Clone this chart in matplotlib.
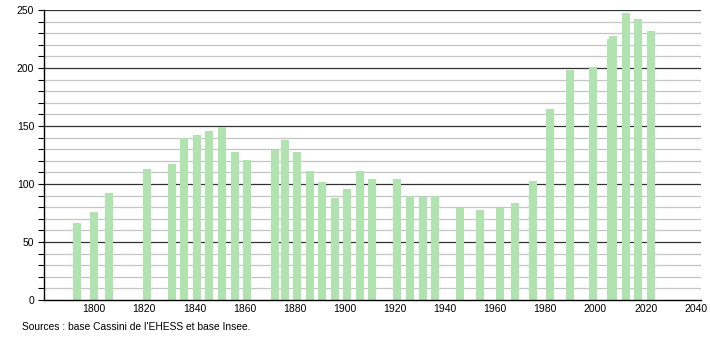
import matplotlib
matplotlib.use('Agg')
import matplotlib.pyplot as plt
from matplotlib.ticker import MultipleLocator

# - Data -
years = [1793, 1800, 1806, 1821, 1831, 1836, 1841, 1846, 1851, 1856, 1861,
         1872, 1876, 1881, 1886, 1891, 1896, 1901, 1906, 1911,
         1921, 1926, 1931, 1936, 1946, 1954, 1962, 1968, 1975, 1982,
         1990, 1999, 2006, 2007, 2012, 2017, 2022]
population = [66, 76, 92, 113, 117, 140, 142, 146, 149, 128, 121,
              129, 138, 128, 111, 102, 88, 96, 111, 104,
              104, 90, 89, 90, 79, 78, 79, 84, 103, 165,
              198, 201, 225, 228, 247, 242, 232]
x_ticks = list(range(1800, 2041, 20))
y_ticks = [0, 50, 100, 150, 200, 250]
source = "Sources : base Cassini de l'EHESS et base Insee."

plt.rcParams['font.family'] = ['Liberation Sans', 'DejaVu Sans']

fig = plt.figure(figsize=(7.1, 3.4), dpi=100)
ax = fig.add_axes([0.062, 0.1176, 0.925, 0.853])

# - Grid lines -
for v in range(10, 251, 10):
    if v % 50 == 0:
        ax.axhline(v, color='#333333', lw=0.9, zorder=1)
    else:
        ax.axhline(v, color='#c4c4c4', lw=0.9, zorder=1)

# - Bars -
ax.bar(years, population, width=3.2, color='#b1e3b1', zorder=2)

ax.set_xlim(1780, 2042)
ax.set_ylim(0, 250)
ax.set_xticks(x_ticks)
ax.set_yticks(y_ticks)
ax.yaxis.set_minor_locator(MultipleLocator(10))
ax.tick_params(axis='x', length=0, labelsize=7.5, pad=3)
ax.tick_params(axis='y', which='both', length=4, width=0.8, labelsize=7.5, pad=3)

for s in ['top', 'right']:
    ax.spines[s].set_visible(False)
for s in ['left', 'bottom']:
    ax.spines[s].set_linewidth(1.0)
    ax.spines[s].set_color('black')

fig.text(22 / 710, 1 - 327 / 340, source, fontsize=7.4, va='center', ha='left')

fig.savefig('out.png', dpi=100)
